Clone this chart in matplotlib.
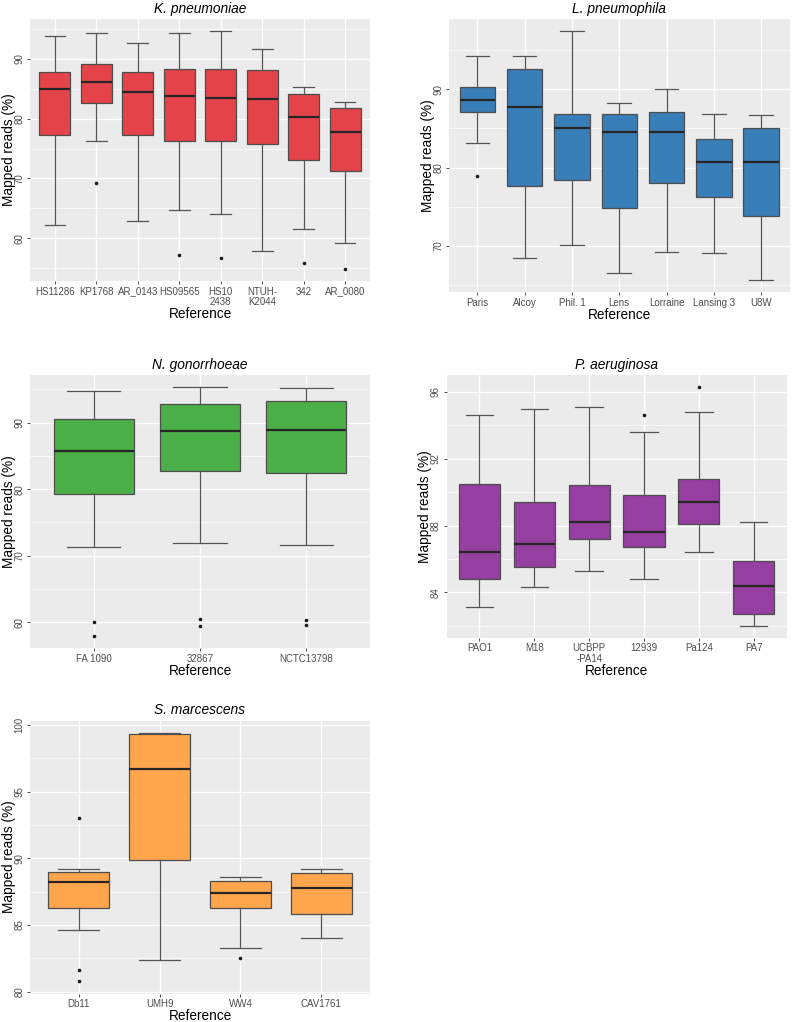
import matplotlib
matplotlib.use("Agg")
import matplotlib.pyplot as plt
from matplotlib.ticker import FixedLocator

plt.rcParams["font.family"] = ["Liberation Sans", "DejaVu Sans"]

# K. pneumoniae
KP_REFS = ["HS11286", "KP1768", "AR_0143", "HS09565", "HS10\n2438", "NTUH-\nK2044", "342", "AR_0080"]
KP_LOW = [62.3, 76.3, 62.9, 64.7, 64.1, 57.9, 61.6, 59.3]
KP_Q1 = [77.3, 82.6, 77.2, 76.2, 76.3, 75.7, 73.1, 71.2]
KP_MED = [84.9, 86.1, 84.4, 83.7, 83.5, 83.3, 80.2, 77.7]
KP_Q3 = [87.8, 89.1, 87.8, 88.3, 88.2, 88.1, 84.1, 81.8]
KP_HIGH = [93.8, 94.2, 92.6, 94.2, 94.6, 91.6, 85.2, 82.7]
KP_OUT = [[], [69.3], [], [57.3], [56.8], [], [55.9], [54.9]]

# L. pneumophila
LP_REFS = ["Paris", "Alcoy", "Phil. 1", "Lens", "Lorraine", "Lansing 3", "U8W"]
LP_LOW = [83.2, 68.4, 70.1, 66.6, 69.2, 69.1, 65.7]
LP_Q1 = [87.1, 77.7, 78.4, 74.9, 78.0, 76.2, 73.8]
LP_MED = [88.7, 87.8, 85.0, 84.5, 84.5, 80.7, 80.7]
LP_Q3 = [90.3, 92.6, 86.9, 86.9, 87.1, 83.7, 85.1]
LP_HIGH = [94.2, 94.3, 97.4, 88.3, 90.0, 86.8, 86.7]
LP_OUT = [[78.9], [], [], [], [], [], []]

# N. gonorrhoeae
NG_REFS = ["FA 1090", "32867", "NCTC13798"]
NG_LOW = [71.3, 71.9, 71.6]
NG_Q1 = [79.3, 82.7, 82.5]
NG_MED = [85.7, 88.7, 88.9]
NG_Q3 = [90.5, 92.8, 93.3]
NG_HIGH = [94.8, 95.3, 95.2]
NG_OUT = [[60.0, 58.0], [60.5, 59.5], [60.3, 59.6]]

# P. aeruginosa
PA_REFS = ["PAO1", "M18", "UCBPP\n-PA14", "12939", "Pa124", "PA7"]
PA_LOW = [83.1, 84.3, 85.3, 84.8, 86.4, 82.0]
PA_Q1 = [84.8, 85.5, 87.2, 86.7, 88.1, 82.7]
PA_MED = [86.4, 86.9, 88.2, 87.6, 89.4, 84.4]
PA_Q3 = [90.5, 89.4, 90.4, 89.8, 90.8, 85.9]
PA_HIGH = [94.6, 95.0, 95.1, 93.6, 94.8, 88.2]
PA_OUT = [[], [], [], [94.6], [96.3], []]

# S. marcescens
SM_REFS = ["Db11", "UMH9", "WW4", "CAV1761"]
SM_LOW = [84.6, 82.4, 83.3, 84.0]
SM_Q1 = [86.3, 89.9, 86.3, 85.8]
SM_MED = [88.2, 96.7, 87.4, 87.8]
SM_Q3 = [89.0, 99.3, 88.3, 88.9]
SM_HIGH = [89.2, 99.4, 88.6, 89.2]
SM_OUT = [[93.0, 81.6, 80.8], [], [82.5], []]

W, H = 792, 1022
fig = plt.figure(figsize=(W / 100, H / 100), dpi=100)

TICK_COL = "#4D4D4D"
EDGE = "#4D4D4D"


def panel(px, title, refs, low, q1, med, q3, high, out, color, major, minor):
    l, t, r, b = px
    ax = fig.add_axes([l / W, 1 - b / H, (r - l) / W, (b - t) / H])
    ax.set_facecolor("#EBEBEB")
    stats = []
    for i in range(len(refs)):
        stats.append({"med": med[i], "q1": q1[i], "q3": q3[i],
                      "whislo": low[i], "whishi": high[i], "fliers": out[i]})
    pos = list(range(1, len(refs) + 1))
    ax.bxp(stats, positions=pos, widths=0.75, capwidths=0.5, patch_artist=True,
           boxprops=dict(facecolor=color, edgecolor=EDGE, linewidth=0.9),
           medianprops=dict(color="#262626", linewidth=1.6),
           whiskerprops=dict(color="#555555", linewidth=0.9),
           capprops=dict(color="#555555", linewidth=0.9),
           flierprops=dict(marker="o", markersize=2.6, markerfacecolor="#1A1A1A",
                           markeredgecolor="none"),
           zorder=3)
    vals = low + high + [v for o in out for v in o]
    lo, hi = min(vals), max(vals)
    pad = (hi - lo) * 0.05
    ax.set_ylim(lo - pad, hi + pad)
    ax.set_xlim(0.4, len(refs) + 0.6)
    ax.set_xticks(pos)
    ax.set_xticklabels(refs, fontsize=7.0, color=TICK_COL, linespacing=1.05)
    ax.yaxis.set_major_locator(FixedLocator(major))
    ax.yaxis.set_minor_locator(FixedLocator(minor))
    ax.set_yticklabels([str(m) for m in major], fontsize=7.0, color=TICK_COL,
                       rotation=90, va="center")
    ax.tick_params(axis="both", which="major", length=2.4, width=0.6,
                   color="#333333", pad=1.6)
    ax.tick_params(axis="y", which="minor", length=0)
    ax.grid(True, which="major", color="white", linewidth=1.0, zorder=0)
    ax.grid(True, axis="y", which="minor", color="white", linewidth=0.5, zorder=0)
    ax.set_axisbelow(True)
    for s in ax.spines.values():
        s.set_visible(False)
    ax.set_title(title, fontsize=9.9, fontstyle="italic", pad=4.5)
    ax.set_xlabel("Reference", fontsize=9.8, labelpad=0.2)
    ax.set_ylabel("Mapped reads (%)", fontsize=9.8, labelpad=-0.8)
    return ax


panel((30, 19, 370, 281), "K. pneumoniae", KP_REFS, KP_LOW, KP_Q1, KP_MED, KP_Q3,
      KP_HIGH, KP_OUT, "#E4434A", [60, 70, 80, 90], [55, 65, 75, 85, 95])
panel((449, 19, 789.5, 292), "L. pneumophila", LP_REFS, LP_LOW, LP_Q1, LP_MED, LP_Q3,
      LP_HIGH, LP_OUT, "#387EB9", [70, 80, 90], [65, 75, 85, 95])
panel((30, 375, 370, 648), "N. gonorrhoeae", NG_REFS, NG_LOW, NG_Q1, NG_MED, NG_Q3,
      NG_HIGH, NG_OUT, "#4BAF48", [60, 70, 80, 90], [65, 75, 85, 95])
panel((446.5, 375, 786.7, 637.7), "P. aeruginosa", PA_REFS, PA_LOW, PA_Q1, PA_MED, PA_Q3,
      PA_HIGH, PA_OUT, "#953FA0", [84, 88, 92, 96], [82, 86, 90, 94])
panel((30, 720.7, 370, 993.5), "S. marcescens", SM_REFS, SM_LOW, SM_Q1, SM_MED, SM_Q3,
      SM_HIGH, SM_OUT, "#FFA54C", [80, 85, 90, 95, 100], [82.5, 87.5, 92.5, 97.5])

fig.savefig("out.png", dpi=100, facecolor="white")
